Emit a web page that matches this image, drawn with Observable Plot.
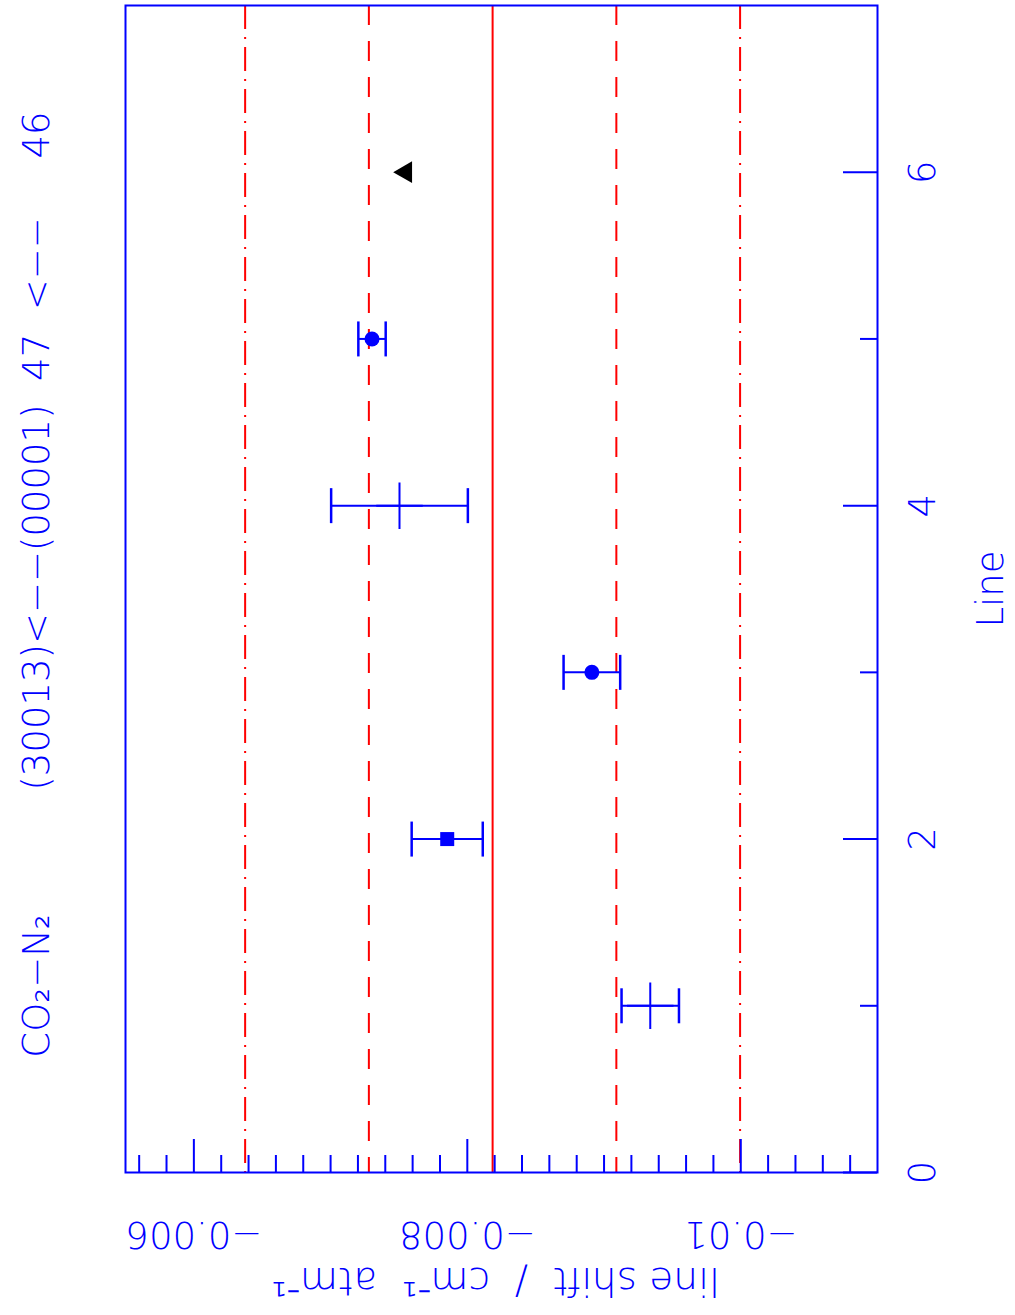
<!DOCTYPE html>
<html><head><meta charset="utf-8">
<script src="https://cdn.jsdelivr.net/npm/d3@7"></script>
<script src="https://cdn.jsdelivr.net/npm/@observablehq/plot@0.6"></script>
<style>body{margin:0;background:#fff}</style>
</head><body><div id="chart"></div>
<script>
// ---- data ----
const lineNo     = [1, 2, 3, 4, 5, 6];
const shiftValue = [-0.009338, -0.007853, -0.008911, -0.007504, -0.007303, -0.00755];
const shiftError = [0.00021, 0.00026, 0.000207, 0.0005, 0.0001, null];
const markerType = ["plus", "square", "circle", "plus", "circle", "triangle"];
const refMean = -0.008185;
const refSd   = 0.000905;

// ---- tick values / labels ----
const shiftMajorTicks  = [-0.006, -0.008, -0.01];
const shiftMajorLabels = ["−0.006", "−0.008", "−0.01"];
const shiftMinorTicks  = d3.range(28, 55).map(i => -i * 0.0002).filter(v => !shiftMajorTicks.some(m => Math.abs(m - v) < 1e-9));
const lineMajorTicks   = [0, 2, 4, 6];
const lineMajorLabels  = ["0", "2", "4", "6"];
const lineMinorTicks   = [1, 3, 5];

const titleLeft  = "CO₂−N₂";
const titleRight = "(30013)<−−(00001)\u00a0 47\u00a0 <−−\u00a0\u00a0\u00a0\u00a0 46";
const shiftLabel = "line shift\u00a0 /\u00a0 cm⁻¹\u00a0 atm⁻¹";
const lineLabel  = "Line";

// ---- layout ----
const W = 1015, H = 1315;
const mL = 125, mR = 138, mT = 5, mB = 143;
const frameW = W - mL - mR, frameH = H - mT - mB;
const BLUE = "#0000ff", RED = "#ff0000";
const FONT = "'DejaVu Sans', sans-serif";
const FS = 37;

const rows = lineNo.map((l, i) => ({line: l, shift: shiftValue[i], err: shiftError[i], marker: markerType[i]}));
const withErr = rows.filter(d => d.err != null);

const capSymbol = {draw(ctx, size) { const h = Math.sqrt(size / Math.PI); ctx.moveTo(0, -h); ctx.lineTo(0, h); }};

const txt = {fill: BLUE, fontFamily: FONT, fontSize: FS, fontWeight: 200, textAnchor: "middle", lineAnchor: "middle"};

const chart = Plot.plot({
  width: W, height: H,
  marginLeft: mL, marginRight: mR, marginTop: mT, marginBottom: mB,
  style: {background: "white", overflow: "visible"},
  x: {type: "linear", domain: [-0.0055, -0.011], axis: null},
  y: {type: "linear", domain: [0, 7], axis: null},
  marks: [
    // reference lines
    Plot.ruleX([refMean], {stroke: RED, strokeWidth: 2}),
    Plot.ruleX([refMean - refSd, refMean + refSd], {stroke: RED, strokeWidth: 2, strokeDasharray: "20,16"}),
    Plot.ruleX([refMean - 2 * refSd, refMean + 2 * refSd], {stroke: RED, strokeWidth: 2, strokeDasharray: "24,8,2,8"}),
    // inward ticks
    Plot.tickX(shiftMinorTicks, {x: d => d, stroke: BLUE, strokeWidth: 2, insetTop: frameH - 17}),
    Plot.tickX(shiftMajorTicks, {x: d => d, stroke: BLUE, strokeWidth: 2, insetTop: frameH - 33}),
    Plot.tickY(lineMinorTicks, {y: d => d, stroke: BLUE, strokeWidth: 2, insetLeft: frameW - 17}),
    Plot.tickY(lineMajorTicks, {y: d => d, stroke: BLUE, strokeWidth: 2, insetLeft: frameW - 34}),
    Plot.frame({stroke: BLUE, strokeWidth: 2}),
    // tick labels
    Plot.text(shiftMajorTicks, {x: d => d, text: (d, i) => shiftMajorLabels[i], frameAnchor: "bottom", dy: 61, rotate: 180, ...txt}),
    Plot.text(lineMajorTicks, {y: d => d, text: (d, i) => lineMajorLabels[i], frameAnchor: "right", dx: 46, rotate: -90, ...txt}),
    // axis titles
    Plot.text([shiftLabel], {frameAnchor: "bottom", dy: 108, dx: -6, rotate: 180, ...txt, fontSize: 39}),
    Plot.text([lineLabel], {frameAnchor: "right", dx: 114, rotate: -90, ...txt}),
    Plot.text([titleLeft], {frameAnchor: "left", dx: -88, dy: 397, rotate: -90, ...txt}),
    Plot.text([titleRight], {frameAnchor: "left", dx: -88, dy: -138, rotate: -90, ...txt}),
    // error bars
    Plot.ruleY(withErr, {y: "line", x1: d => d.shift - d.err, x2: d => d.shift + d.err, stroke: BLUE, strokeWidth: 2}),
    Plot.dot(withErr, {x: d => d.shift - d.err, y: "line", symbol: capSymbol, r: 17.5, fill: "none", stroke: BLUE, strokeWidth: 2.5}),
    Plot.dot(withErr, {x: d => d.shift + d.err, y: "line", symbol: capSymbol, r: 17.5, fill: "none", stroke: BLUE, strokeWidth: 2.5}),
    // markers
    Plot.dot(rows.filter(d => d.marker === "plus"), {x: "shift", y: "line", symbol: "plus", r: 15, stroke: BLUE, strokeWidth: 2}),
    Plot.dot(rows.filter(d => d.marker === "circle"), {x: "shift", y: "line", symbol: "circle", r: 7.5, fill: BLUE}),
    Plot.dot(rows.filter(d => d.marker === "square"), {x: "shift", y: "line", symbol: "square", r: 7.9, fill: BLUE}),
    Plot.dot(rows.filter(d => d.marker === "triangle"), {x: "shift", y: "line", symbol: "triangle", r: 8.1, fill: "black", rotate: -90})
  ]
});
document.getElementById("chart").appendChild(chart);
</script>
</body></html>
